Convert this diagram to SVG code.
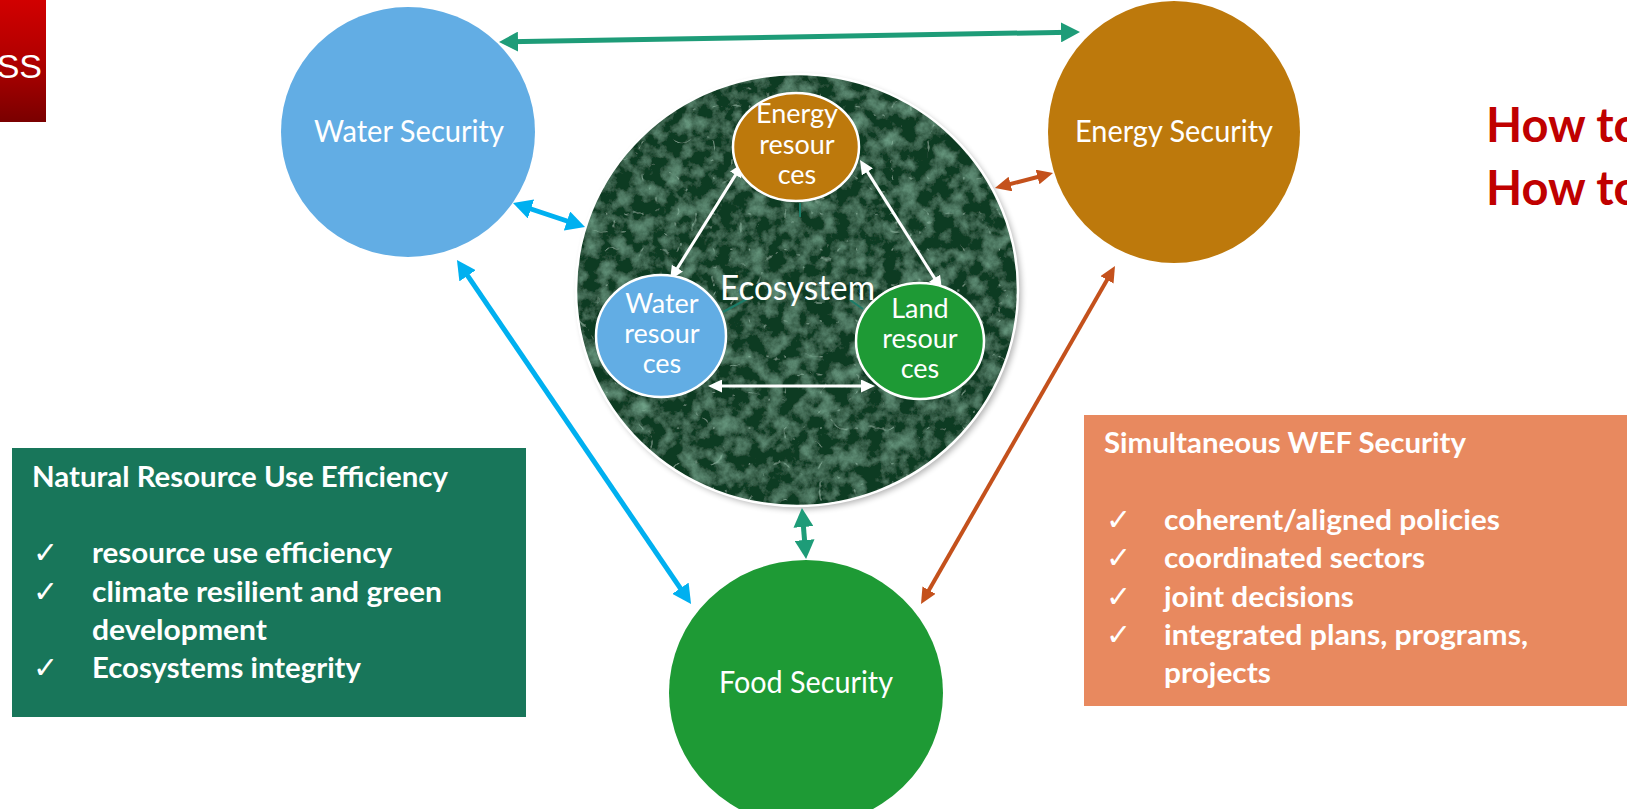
<svg xmlns="http://www.w3.org/2000/svg" width="1627" height="809" viewBox="0 0 1627 809">
  <style>
    .lbl { font-family: Lato, "Open Sans", "Liberation Sans", sans-serif; fill: #ffffff; }
    .node { font-size: 30px; text-anchor: middle; }
    .res { font-size: 27px; text-anchor: middle; }
    .eco { font-size: 34px; }
    .box { font-family: Lato, "Open Sans", "Liberation Sans", sans-serif; font-weight: 700; font-size: 29px; fill: #ffffff; }
    .chk { font-family: "DejaVu Sans", sans-serif; font-size: 30px; fill: #ffffff; }
    .ask { font-family: Lato, "Open Sans", "Liberation Sans", sans-serif; font-weight: 700; font-size: 47px; fill: #c00000; }
    .ring { stroke: #ffffff; stroke-width: 2.5; }
    .c-green { stroke: #1e9c78; stroke-width: 5; fill: none; marker-start: url(#headGreen); marker-end: url(#headGreen); }
    .c-blue { stroke: #00b0f0; stroke-width: 5; fill: none; marker-start: url(#headBlue); marker-end: url(#headBlue); }
    .c-brown { stroke: #c4511c; stroke-width: 4; fill: none; marker-start: url(#headBrown); marker-end: url(#headBrown); }
    .c-white { stroke: #ffffff; stroke-width: 3; fill: none; marker-start: url(#headWhite); marker-end: url(#headWhite); }
    .c-faint { stroke: #1b7c68; stroke-width: 2; fill: none; }
  </style>
  <defs>
    <linearGradient id="logoFill" x1="0" y1="0" x2="0" y2="1">
      <stop offset="0" stop-color="#d10000"/>
      <stop offset="0.5" stop-color="#b00000"/>
      <stop offset="1" stop-color="#7a0000"/>
    </linearGradient>
    <!-- dark green marble: soft mottling plus thin pale veins -->
    <filter id="marble" x="0" y="0" width="1" height="1">
      <feTurbulence type="fractalNoise" baseFrequency="0.06" numOctaves="5" seed="5" result="n1"/>
      <feColorMatrix in="n1" type="matrix" values="0 0 0 0 0.19  0 0 0 0 0.42  0 0 0 0 0.29  0 0 0 1.5 -0.62" result="m1"/>
      <feTurbulence type="turbulence" baseFrequency="0.028" numOctaves="3" seed="11" result="n2"/>
      <feColorMatrix in="n2" type="matrix" values="0 0 0 0 0.42  0 0 0 0 0.70  0 0 0 0 0.54  0 0 0 -6 0.42" result="m2"/>
      <feMerge result="stack">
        <feMergeNode in="SourceGraphic"/>
        <feMergeNode in="m1"/>
        <feMergeNode in="m2"/>
      </feMerge>
      <feComposite in="stack" in2="SourceGraphic" operator="in"/>
    </filter>
    <filter id="soft" x="-10%" y="-10%" width="120%" height="120%">
      <feGaussianBlur stdDeviation="3"/>
    </filter>
    <marker id="headGreen" viewBox="0 0 10 10" refX="5" refY="5" markerUnits="userSpaceOnUse" markerWidth="19" markerHeight="20" preserveAspectRatio="none" orient="auto-start-reverse">
      <path d="M0,0 L10,5 L0,10 Z" fill="#1e9c78"/>
    </marker>
    <marker id="headBlue" viewBox="0 0 10 10" refX="5" refY="5" markerUnits="userSpaceOnUse" markerWidth="19" markerHeight="20" preserveAspectRatio="none" orient="auto-start-reverse">
      <path d="M0,0 L10,5 L0,10 Z" fill="#00b0f0"/>
    </marker>
    <marker id="headBrown" viewBox="0 0 10 10" refX="5" refY="5" markerUnits="userSpaceOnUse" markerWidth="16" markerHeight="15" preserveAspectRatio="none" orient="auto-start-reverse">
      <path d="M0,0 L10,5 L0,10 Z" fill="#c4511c"/>
    </marker>
    <marker id="headWhite" viewBox="0 0 10 10" refX="5" refY="5" markerUnits="userSpaceOnUse" markerWidth="14" markerHeight="13" preserveAspectRatio="none" orient="auto-start-reverse">
      <path d="M0,0 L10,5 L0,10 Z" fill="#ffffff"/>
    </marker>
  </defs>

  <rect width="1627" height="809" fill="#ffffff"/>

  <!-- corner badge -->
  <g id="badge">
    <rect x="0" y="0" width="46" height="122" fill="url(#logoFill)"/>
    <text x="42" y="78" text-anchor="end" font-family="'Liberation Sans', Arial, sans-serif" font-size="34" fill="#ffffff">SS</text>
  </g>

  <!-- outer security nodes -->
  <g id="water-security">
    <ellipse cx="408" cy="132" rx="127" ry="125" fill="#62ade4"/>
    <text class="lbl node" x="409" y="142" textLength="190" lengthAdjust="spacingAndGlyphs">Water Security</text>
  </g>
  <g id="energy-security">
    <ellipse cx="1174" cy="132" rx="126" ry="131" fill="#bd790c"/>
    <text class="lbl node" x="1174" y="142" textLength="198" lengthAdjust="spacingAndGlyphs">Energy Security</text>
  </g>
  <g id="food-security">
    <ellipse cx="806" cy="693" rx="137" ry="133" fill="#1e9a35"/>
    <text class="lbl node" x="806" y="693" textLength="174" lengthAdjust="spacingAndGlyphs">Food Security</text>
  </g>

  <!-- central ecosystem disc -->
  <g id="ecosystem">
    <ellipse cx="800" cy="293" rx="221" ry="216" fill="#000000" opacity="0.3" filter="url(#soft)"/>
    <ellipse cx="797" cy="290" rx="221" ry="216" fill="#0e3a21" filter="url(#marble)"/>
    <ellipse cx="797" cy="290" rx="221" ry="216" fill="none" class="ring" stroke-width="3"/>
  </g>

  <!-- connectors -->
  <g id="connectors">
    <line class="c-faint" x1="800" y1="203" x2="800" y2="217"/>
    <line class="c-faint" x1="723" y1="312" x2="747" y2="299"/>
    <line class="c-faint" x1="850" y1="300" x2="863" y2="309"/>
    <line class="c-green" x1="508.5" y1="41.8" x2="1070.5" y2="32.2"/>
    <line class="c-green" x1="802.7" y1="517.5" x2="805.3" y2="549.5"/>
    <line class="c-blue" x1="522" y1="206" x2="576" y2="224"/>
    <line class="c-blue" x1="462.3" y1="267.9" x2="685.7" y2="596.1"/>
    <line class="c-brown" x1="1002.7" y1="186" x2="1045.3" y2="175"/>
    <line class="c-brown" x1="1111" y1="272.9" x2="925" y2="597.1"/>
    <line class="c-white" x1="739.3" y1="168.9" x2="673.7" y2="274.1"/>
    <line class="c-white" x1="863.7" y1="165.9" x2="938.3" y2="284.1"/>
    <line class="c-white" x1="715" y1="386" x2="868" y2="386"/>
  </g>

  <!-- resources inside the ecosystem -->
  <g id="energy-resources">
    <ellipse class="ring" cx="796" cy="147" rx="63" ry="54" fill="#bd790c"/>
    <text class="lbl res" x="797" y="123">Energy</text>
    <text class="lbl res" x="797" y="154">resour</text>
    <text class="lbl res" x="797" y="184">ces</text>
  </g>
  <g id="water-resources">
    <ellipse class="ring" cx="661" cy="336" rx="65" ry="61" fill="#62ade4"/>
    <text class="lbl res" x="662" y="313">Water</text>
    <text class="lbl res" x="662" y="343">resour</text>
    <text class="lbl res" x="662" y="373">ces</text>
  </g>
  <g id="land-resources">
    <ellipse class="ring" cx="920" cy="341" rx="64" ry="58" fill="#1e9a35"/>
    <text class="lbl res" x="920" y="318">Land</text>
    <text class="lbl res" x="920" y="348">resour</text>
    <text class="lbl res" x="920" y="378">ces</text>
  </g>
  <g id="ecosystem-label">
    <text class="lbl eco" x="720" y="300" textLength="155" lengthAdjust="spacingAndGlyphs">Ecosystem</text>
  </g>

  <!-- left panel -->
  <g id="efficiency-panel">
    <rect x="12" y="448" width="514" height="269" fill="#18765a"/>
    <text class="box" x="32" y="487" textLength="416" lengthAdjust="spacingAndGlyphs">Natural Resource Use Efficiency</text>
    <text class="chk" x="33" y="563">✓</text>
    <text class="box" x="92" y="563" textLength="300" lengthAdjust="spacingAndGlyphs">resource use efficiency</text>
    <text class="chk" x="33" y="602">✓</text>
    <text class="box" x="92" y="602" textLength="350" lengthAdjust="spacingAndGlyphs">climate resilient and green</text>
    <text class="box" x="92" y="640" textLength="175" lengthAdjust="spacingAndGlyphs">development</text>
    <text class="chk" x="33" y="678">✓</text>
    <text class="box" x="92" y="678" textLength="269" lengthAdjust="spacingAndGlyphs">Ecosystems integrity</text>
  </g>

  <!-- right panel -->
  <g id="wef-panel">
    <rect x="1084" y="415" width="543" height="291" fill="#e8895f"/>
    <text class="box" x="1104" y="453" textLength="362" lengthAdjust="spacingAndGlyphs">Simultaneous WEF Security</text>
    <text class="chk" x="1106" y="530">✓</text>
    <text class="box" x="1164" y="530" textLength="336" lengthAdjust="spacingAndGlyphs">coherent/aligned policies</text>
    <text class="chk" x="1106" y="568">✓</text>
    <text class="box" x="1164" y="568" textLength="261" lengthAdjust="spacingAndGlyphs">coordinated sectors</text>
    <text class="chk" x="1106" y="607">✓</text>
    <text class="box" x="1164" y="607" textLength="190" lengthAdjust="spacingAndGlyphs">joint decisions</text>
    <text class="chk" x="1106" y="645">✓</text>
    <text class="box" x="1164" y="645" textLength="364" lengthAdjust="spacingAndGlyphs">integrated plans, programs,</text>
    <text class="box" x="1164" y="683" textLength="107" lengthAdjust="spacingAndGlyphs">projects</text>
  </g>

  <!-- questions at the right edge -->
  <g id="questions">
    <text class="ask" x="1486" y="142">How to</text>
    <text class="ask" x="1486" y="205">How to</text>
  </g>
</svg>
